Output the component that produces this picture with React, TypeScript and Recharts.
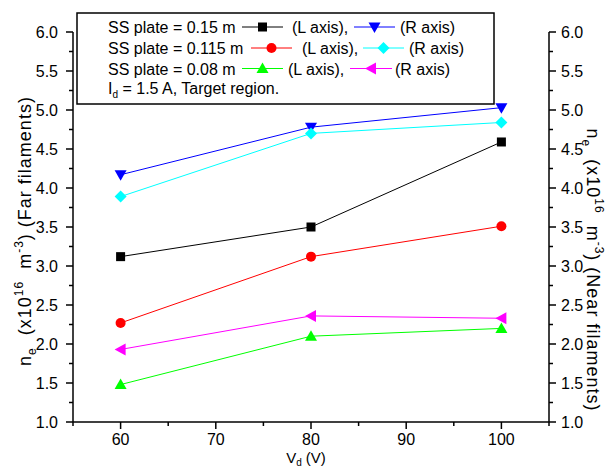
import React from 'react'
import { LineChart, Line, XAxis, YAxis } from 'recharts'

// V_d (V)
const voltages = [60, 80, 100]
// left axis, far filaments
const far015 = [3.12, 3.5, 4.59]
const far0115 = [2.27, 3.12, 3.51]
const far008 = [1.48, 2.1, 2.2]
// right axis, near filaments
const near015 = [4.17, 4.78, 5.03]
const near0115 = [3.89, 4.7, 4.84]
const near008 = [1.93, 2.36, 2.33]

const xTicks = [55, 60, 65, 70, 75, 80, 85, 90, 95, 100, 105]
const xTickLabels = [60, 70, 80, 90, 100]
const yTicks = [1, 1.25, 1.5, 1.75, 2, 2.25, 2.5, 2.75, 3, 3.25, 3.5, 3.75, 4, 4.25, 4.5, 4.75, 5, 5.25, 5.5, 5.75, 6]
const plateLabels = ['SS plate = 0.15 m', 'SS plate = 0.115 m', 'SS plate = 0.08 m']

const data = voltages.map((v, i) => ({
  v,
  far015: far015[i], far0115: far0115[i], far008: far008[i],
  near015: near015[i], near0115: near0115[i], near008: near008[i],
}))

const FONT = 'Arial, "Liberation Sans", sans-serif'

type Shape = 'square' | 'circle' | 'up' | 'down' | 'diamond' | 'left'

function Marker({ shape, cx, cy, color }: { shape: Shape; cx: number; cy: number; color: string }) {
  switch (shape) {
    case 'square':
      return <rect x={cx - 4.5} y={cy - 4.5} width={9} height={9} fill={color} />
    case 'circle':
      return <circle cx={cx} cy={cy} r={5} fill={color} />
    case 'up':
      return <polygon points={`${cx},${cy - 6} ${cx - 6},${cy + 4.5} ${cx + 6},${cy + 4.5}`} fill={color} />
    case 'down':
      return <polygon points={`${cx},${cy + 6} ${cx - 6},${cy - 4.5} ${cx + 6},${cy - 4.5}`} fill={color} />
    case 'diamond':
      return <polygon points={`${cx},${cy - 6} ${cx + 6},${cy} ${cx},${cy + 6} ${cx - 6},${cy}`} fill={color} />
    case 'left':
      return <polygon points={`${cx - 6},${cy} ${cx + 5},${cy - 6} ${cx + 5},${cy + 6}`} fill={color} />
  }
  return null
}

const series: { key: string; axis: string; color: string; shape: Shape }[] = [
  { key: 'far015', axis: 'L', color: '#000000', shape: 'square' },
  { key: 'far0115', axis: 'L', color: '#FF0000', shape: 'circle' },
  { key: 'far008', axis: 'L', color: '#00FF00', shape: 'up' },
  { key: 'near015', axis: 'R', color: '#0000FF', shape: 'down' },
  { key: 'near0115', axis: 'R', color: '#00FFFF', shape: 'diamond' },
  { key: 'near008', axis: 'R', color: '#FF00FF', shape: 'left' },
]

function XTick(p: any) {
  const v = p.payload.value
  const major = xTickLabels.includes(v)
  return (
    <g>
      <line x1={p.x} x2={p.x} y1={p.y} y2={p.y + (major ? 7 : 4)} stroke="#000" strokeWidth={1.5} />
      {major && (
        <text x={p.x} y={p.y + 23} textAnchor="middle" fontSize={16} fontFamily={FONT} fill="#000">
          {v}
        </text>
      )}
    </g>
  )
}

function YTick(p: any, side: 'L' | 'R') {
  const v = p.payload.value
  const major = Math.abs(v * 2 - Math.round(v * 2)) < 1e-6
  const s = side === 'L' ? -1 : 1
  return (
    <g>
      <line x1={p.x} x2={p.x + s * (major ? 7 : 4)} y1={p.y} y2={p.y} stroke="#000" strokeWidth={1.5} />
      {major && (
        <text
          x={side === 'L' ? p.x - 15 : p.x + 12}
          y={p.y + 5.5}
          textAnchor={side === 'L' ? 'end' : 'start'}
          fontSize={16}
          fontFamily={FONT}
          fill="#000"
        >
          {v.toFixed(1)}
        </text>
      )}
    </g>
  )
}

// legend row layout: [lineL x1, lineL x2, L text x, lineR x1, lineR x2, R text x]
const legendRows = [
  [242, 283, 292, 354, 395, 400],
  [251, 292, 302, 363, 404, 409],
  [242, 283, 288, 350, 392, 395],
]
const rowY = [27, 48, 68.5]

function Legend() {
  return (
    <svg width={608} height={467} style={{ position: 'absolute', left: 0, top: 0, pointerEvents: 'none' }}>
      <rect x={77} y={13} width={417} height={91} fill="#fff" stroke="#000" strokeWidth={1.5} />
      {plateLabels.map((lab, i) => {
        const [a1, a2, lt, b1, b2, rt] = legendRows[i]
        const y = rowY[i]
        const l = series[i]
        const r = series[i + 3]
        return (
          <g key={lab} fontFamily={FONT} fontSize={16} fill="#000">
            <text x={108} y={y + 6}>{lab}</text>
            <line x1={a1} x2={a2} y1={y} y2={y} stroke={l.color} strokeWidth={1} />
            <Marker shape={l.shape} cx={(a1 + a2) / 2} cy={y} color={l.color} />
            <text x={lt} y={y + 6}>(L axis),</text>
            <line x1={b1} x2={b2} y1={y} y2={y} stroke={r.color} strokeWidth={1} />
            <Marker shape={r.shape} cx={(b1 + b2) / 2} cy={y} color={r.color} />
            <text x={rt} y={y + 6}>(R axis)</text>
          </g>
        )
      })}
      <text x={108} y={94} fontFamily={FONT} fontSize={16} fill="#000">
        I<tspan fontSize={10} dy={4}>d</tspan>
        <tspan dy={-4}> = 1.5 A, Target region.</tspan>
      </text>
    </svg>
  )
}

function AxisTitles() {
  const title = (which: string) => (
    <>
      n<tspan fontSize={12} dy={5}>e</tspan>
      <tspan dy={-5}>{'  (x10'}</tspan>
      <tspan fontSize={12} dy={-8}>16</tspan>
      <tspan dy={8}>{'  m'}</tspan>
      <tspan fontSize={12} dy={-8}>-3</tspan>
      <tspan dy={8}>) ({which} filaments)</tspan>
    </>
  )
  const style = { whiteSpace: 'pre' as const, letterSpacing: 1 }
  return (
    <svg width={608} height={467} style={{ position: 'absolute', left: 0, top: 0, pointerEvents: 'none' }}>
      <text transform="translate(31,231) rotate(-90)" textAnchor="middle" fontFamily={FONT} fontSize={18} fill="#000" style={style}>
        {title('Far')}
      </text>
      <text transform="translate(587,270) rotate(90)" textAnchor="middle" fontFamily={FONT} fontSize={18} fill="#000" style={style}>
        {title('Near')}
      </text>
      <text x={306} y={463} textAnchor="middle" fontFamily={FONT} fontSize={15} fill="#000">
        V<tspan fontSize={10} dy={3}>d</tspan>
        <tspan dy={-3}> (V)</tspan>
      </text>
    </svg>
  )
}

export default function App() {
  return (
    <div style={{ position: 'absolute', left: 0, top: 0, width: 608, height: 467, background: '#fff' }}>
      <LineChart width={608} height={467} data={data} margin={{ top: 32, right: 0, bottom: 0, left: 0 }}>
        <XAxis
          dataKey="v"
          type="number"
          domain={[55, 105]}
          ticks={xTicks}
          interval={0}
          height={45}
          tickSize={0}
          tickMargin={0}
          tickLine={false}
          axisLine={{ stroke: '#000', strokeWidth: 1.5 }}
          tick={(p: any) => <XTick {...p} />}
        />
        <YAxis
          yAxisId="L"
          orientation="left"
          type="number"
          domain={[1, 6]}
          ticks={yTicks}
          interval={0}
          width={73}
          tickSize={0}
          tickMargin={0}
          tickLine={false}
          axisLine={{ stroke: '#000', strokeWidth: 1.5 }}
          tick={(p: any) => YTick(p, 'L')}
        />
        <YAxis
          yAxisId="R"
          orientation="right"
          type="number"
          domain={[1, 6]}
          ticks={yTicks}
          interval={0}
          width={59}
          tickSize={0}
          tickMargin={0}
          tickLine={false}
          axisLine={{ stroke: '#000', strokeWidth: 1.5 }}
          tick={(p: any) => YTick(p, 'R')}
        />
        {series.map(s => (
          <Line
            key={s.key}
            yAxisId={s.axis}
            dataKey={s.key}
            type="linear"
            stroke={s.color}
            strokeWidth={1}
            isAnimationActive={false}
            dot={(p: any) => <Marker key={`${s.key}-${p.index}`} shape={s.shape} cx={p.cx} cy={p.cy} color={s.color} />}
            activeDot={false}
          />
        ))}
      </LineChart>
      <AxisTitles />
      <Legend />
    </div>
  )
}
